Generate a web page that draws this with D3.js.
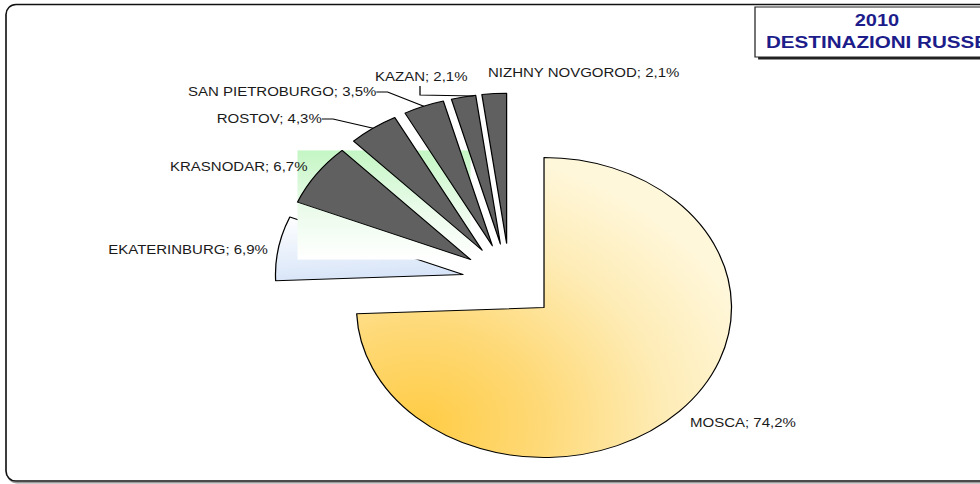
<!DOCTYPE html>
<html>
<head>
<meta charset="utf-8">
<script src="https://cdn.jsdelivr.net/npm/d3@7"></script>
<style>
  html, body { margin: 0; padding: 0; background: #fff; }
  svg { display: block; }
  text { font-family: Arial, "Liberation Sans", sans-serif; }
</style>
</head>
<body>
<div id="chart"></div>
<script>
// dati (quote % destinazioni russe 2010)
const cities = ["MOSCA", "EKATERINBURG", "KRASNODAR", "ROSTOV", "SAN PIETROBURGO", "KAZAN", "NIZHNY NOVGOROD"];
const shares = [74.2, 6.9, 6.7, 4.3, 3.5, 2.1, 2.1];
const titleLines = ["2010", "DESTINAZIONI RUSSE"];

// posizione etichette (coordinate viewBox) e tipo di linea guida
const labelAt = [[552, 427], [86.6, 254], [136, 170.7], [173.4, 123], [150.4, 96], [300, 81], [390.4, 77.5]];
const leader = ["none", "none", "none", "elbow", "elbow", "drop", "none"];

// il grafico originale e' stirato in orizzontale: disegno in 784x484 e allargo a 980
const W = 980, H = 484, VW = 784;
const cx = 407.8, cy = 281.2, radius = 150, explode = 38;

const svg = d3.select("#chart").append("svg")
    .attr("width", W).attr("height", H)
    .attr("viewBox", `0 0 ${VW} ${H}`)
    .attr("preserveAspectRatio", "none");

const defs = svg.append("defs");

// torta
const pie = d3.pie().sort(null).value(d => d);
const arcs = pie(shares);
const arc = d3.arc().innerRadius(0).outerRadius(radius);

const mid = a => (a.startAngle + a.endAngle) / 2;
const offset = a => [cx + explode * Math.sin(mid(a)), cy - explode * Math.cos(mid(a))];
const outerPt = a => {
    const [ox, oy] = offset(a);
    return [ox + radius * Math.sin(mid(a)), oy - radius * Math.cos(mid(a))];
};

// sfumatura oro di Mosca: centro in basso a sinistra (coordinate locali della fetta)
const [mx, my] = offset(arcs[0]);
const gMosca = defs.append("radialGradient").attr("id", "gMosca")
    .attr("gradientUnits", "userSpaceOnUse")
    .attr("cx", 336 - mx).attr("cy", 425 - my).attr("r", 280);
gMosca.append("stop").attr("offset", 0).attr("stop-color", "#ffcc45");
gMosca.append("stop").attr("offset", 0.35).attr("stop-color", "#fed977");
gMosca.append("stop").attr("offset", 0.7).attr("stop-color", "#feecb6");
gMosca.append("stop").attr("offset", 1).attr("stop-color", "#fff7da");

const gEkat = defs.append("linearGradient").attr("id", "gEkat")
    .attr("x1", 0).attr("y1", 0).attr("x2", 0.2).attr("y2", 1);
gEkat.append("stop").attr("offset", 0).attr("stop-color", "#ffffff");
gEkat.append("stop").attr("offset", 1).attr("stop-color", "#d8e5f8");

const gGreen = defs.append("linearGradient").attr("id", "gGreen")
    .attr("x1", 0).attr("y1", 0).attr("x2", 0).attr("y2", 1);
gGreen.append("stop").attr("offset", 0).attr("stop-color", "#c4f6c4");
gGreen.append("stop").attr("offset", 0.55).attr("stop-color", "#ebfbeb");
gGreen.append("stop").attr("offset", 1).attr("stop-color", "#ffffff");

// cornice esterna (il lato destro esce dall'immagine)
svg.append("rect")
    .attr("x", 5.8).attr("y", 5.8).attr("width", 790).attr("height", 477)
    .attr("rx", 8).attr("ry", 10)
    .attr("fill", "none").attr("stroke", "#9a9a9a").attr("stroke-width", 1.5);
svg.append("rect")
    .attr("x", 4.8).attr("y", 4.5).attr("width", 790).attr("height", 476.5)
    .attr("rx", 8).attr("ry", 10)
    .attr("fill", "#fff").attr("stroke", "#111").attr("stroke-width", 1.3);

// box titolo
svg.append("rect")
    .attr("x", 606.5).attr("y", 9.5).attr("width", 200).attr("height", 50)
    .attr("fill", "#222");
svg.append("rect")
    .attr("x", 604).attr("y", 7).attr("width", 200).attr("height", 50)
    .attr("fill", "#fff").attr("stroke", "#222").attr("stroke-width", 1);
svg.append("text")
    .attr("x", 701.6).attr("y", 26)
    .attr("text-anchor", "middle")
    .style("font-size", "16px").style("font-weight", "bold")
    .attr("fill", "#1c1c8a")
    .text(titleLines[0]);
svg.append("text")
    .attr("x", 701.6).attr("y", 48)
    .attr("text-anchor", "middle")
    .style("font-size", "16.5px").style("font-weight", "bold")
    .attr("fill", "#1c1c8a")
    .text(titleLines[1]);

const fillFor = i => i === 0 ? "url(#gMosca)" : i === 1 ? "url(#gEkat)" : "#606060";

const slices = svg.append("g");
arcs.forEach((a, i) => {
    const [ox, oy] = offset(a);
    slices.append("path")
        .attr("d", arc(a))
        .attr("transform", `translate(${ox},${oy})`)
        .attr("fill", fillFor(i))
        .attr("stroke", "#000")
        .attr("stroke-width", 1)
        .attr("stroke-linejoin", "round");

    // la fetta di Krasnodar lascia il riquadro sfumato verde dietro di se'
    if (i === 1) {
        const k = arcs[2];
        const [kx, ky] = offset(k);
        const tmp = svg.append("path").attr("d", arc(k)).attr("transform", `translate(${kx},${ky})`);
        const bb = tmp.node().getBBox();
        tmp.remove();
        slices.append("rect")
            .attr("x", bb.x + kx).attr("y", bb.y + ky)
            .attr("width", bb.width).attr("height", bb.height)
            .attr("fill", "url(#gGreen)");
    }
});

// etichette
const fmt = v => d3.format(".1f")(v).replace(".", ",") + "%";
const labels = svg.append("g");
arcs.forEach((a, i) => {
    const [lx, ly] = labelAt[i];
    const t = labels.append("text")
        .attr("x", lx).attr("y", ly)
        .style("font-size", "12px")
        .attr("fill", "#1a1a1a")
        .text(`${cities[i]}; ${fmt(shares[i])}`);
    const [px, py] = outerPt(a);
    if (leader[i] === "elbow") {
        const x0 = lx + t.node().getComputedTextLength();
        const yl = ly - 4;
        labels.append("polyline")
            .attr("points", `${x0},${yl} ${x0 + 9},${yl} ${px},${py}`)
            .attr("fill", "none").attr("stroke", "#000").attr("stroke-width", 1);
    } else if (leader[i] === "drop") {
        const xl = lx + 36;
        labels.append("polyline")
            .attr("points", `${xl},${ly + 5} ${xl},${ly + 14} ${px + 8},${py - 1}`)
            .attr("fill", "none").attr("stroke", "#000").attr("stroke-width", 1);
    }
});
</script>
</body>
</html>
